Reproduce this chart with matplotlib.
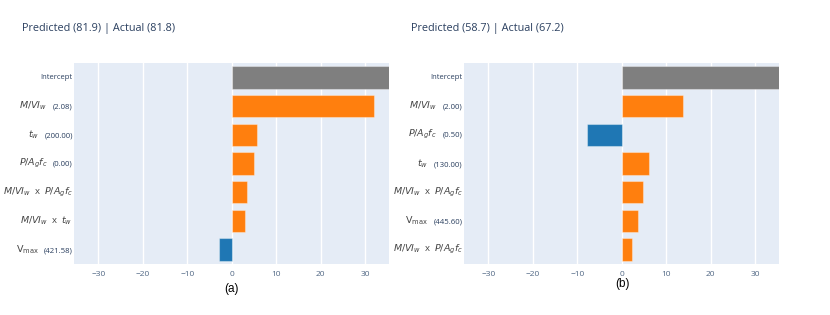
import matplotlib.pyplot as plt
from matplotlib.offsetbox import TextArea, HPacker, AnnotationBbox

plt.rcParams['font.family'] = ['Open Sans', 'DejaVu Sans']
plt.rcParams['mathtext.fontset'] = 'dejavusans'

# panel (a)
titles = ["Predicted (81.9) | Actual (81.8)", "Predicted (58.7) | Actual (67.2)"]
panel_tags = ["(a)", "(b)"]

terms_a = ["Intercept", r"$M/VI_w$", r"$t_w$", r"$P/A_gf_c$",
           r"$M/VI_w$  x  $P/A_gf_c$", r"$M/VI_w$  x  $t_w$", r"$\mathrm{V}_{\mathrm{max}}$"]
values_a = ["", "(2.08)", "(200.00)", "(0.00)", "", "", "(421.58)"]
contrib_a = [35.7, 32.0, 5.7, 5.0, 3.45, 3.0, -2.9]

# panel (b)
terms_b = ["Intercept", r"$M/VI_w$", r"$P/A_gf_c$", r"$t_w$",
           r"$M/VI_w$  x  $P/A_gf_c$", r"$\mathrm{V}_{\mathrm{max}}$", r"$M/VI_w$  x  $P/A_gf_c$"]
values_b = ["", "(2.00)", "(0.50)", "(130.00)", "", "(445.60)", ""]
contrib_b = [35.7, 13.9, -7.9, 6.1, 4.9, 3.6, 2.4]

xticks = [-30, -20, -10, 0, 10, 20, 30]

GRAY, ORANGE, BLUE = "#7f7f7f", "#ff7f0e", "#1f77b4"
BG = "#e5ecf6"
TXT = "#2a3f5f"

fig = plt.figure(figsize=(8.3, 3.15), dpi=100)
axes = [fig.add_axes([0.0892, 0.162, 0.3795, 0.638]),
        fig.add_axes([0.559, 0.162, 0.3795, 0.638])]

panels = [(terms_a, values_a, contrib_a), (terms_b, values_b, contrib_b)]
title_x = [22 / 830, 411 / 830]
tag_pos = [(231 / 830, 1 - 289 / 315), (622 / 830, 1 - 284 / 315)]

for k, (ax, (terms, vals, contrib)) in enumerate(zip(axes, panels)):
    n = len(terms)
    colors = [GRAY if i == 0 else (ORANGE if c > 0 else BLUE) for i, c in enumerate(contrib)]
    ax.set_facecolor(BG)
    ax.set_axisbelow(True)
    ax.barh(range(n), contrib, height=0.78, color=colors,
            edgecolor=(1, 1, 1, 0.35), linewidth=0.8, zorder=3)
    ax.set_xlim(-35.5, 35.4)
    ax.set_ylim(n - 0.5, -0.5)
    ax.set_xticks(xticks)
    ax.set_xticklabels(["\u221230", "\u221220", "\u221210", "0", "10", "20", "30"])
    ax.grid(axis="x", color="white", linewidth=1.0)
    ax.tick_params(axis="x", length=0, labelsize=6, labelcolor="#506784", pad=5)
    ax.set_yticks(range(n))
    ax.set_yticklabels([""] * n)
    ax.tick_params(axis="y", length=0)
    for s in ax.spines.values():
        s.set_visible(False)

    for i, (t, v) in enumerate(zip(terms, vals)):
        if t == "Intercept":
            parts = [TextArea(t, textprops=dict(fontsize=5.5, color=TXT))]
        else:
            parts = [TextArea(t, textprops=dict(fontsize=6.8, color="#444444"))]
            if v:
                parts.append(TextArea(v, textprops=dict(fontsize=5.6, color=TXT)))
        box = HPacker(children=parts, align="baseline", pad=0, sep=4)
        ab = AnnotationBbox(box, (-0.004, i), xycoords=ax.get_yaxis_transform(),
                            box_alignment=(1, 0.5), frameon=False, pad=0,
                            annotation_clip=False)
        ax.add_artist(ab)

    fig.text(title_x[k], 1 - 28 / 315, titles[k], fontsize=7.8, color=TXT,
             ha="left", va="center")
    fig.text(tag_pos[k][0], tag_pos[k][1], panel_tags[k], fontsize=8.5,
             family="Liberation Sans", color="black", ha="center", va="center")

fig.savefig("out.png", dpi=100)
